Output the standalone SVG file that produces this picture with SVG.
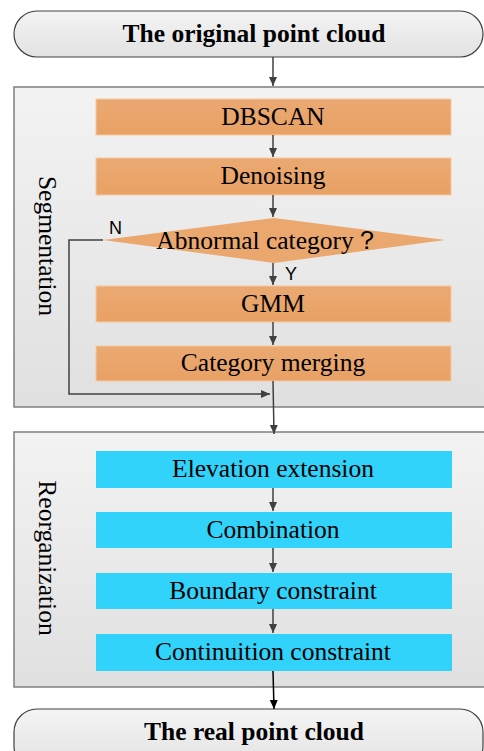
<svg xmlns="http://www.w3.org/2000/svg" width="484" height="751" viewBox="0 0 484 751">
<defs>
<linearGradient id="gbox" x1="0" y1="0" x2="0" y2="1"><stop offset="0" stop-color="#f3f3f3"/><stop offset="1" stop-color="#e0e0e0"/></linearGradient>
<linearGradient id="gpill" x1="0" y1="0" x2="0" y2="1"><stop offset="0" stop-color="#f4f4f4"/><stop offset="1" stop-color="#e2e2e2"/></linearGradient>
<linearGradient id="gor" x1="0" y1="0" x2="0" y2="1"><stop offset="0" stop-color="#eaa972"/><stop offset="1" stop-color="#e9a164"/></linearGradient>
<marker id="ah" markerWidth="10" markerHeight="10" refX="9" refY="5" orient="auto" markerUnits="userSpaceOnUse"><path d="M0,1 L9,5 L0,9 Z" fill="#404040"/></marker>
<marker id="ahk" markerWidth="10" markerHeight="10" refX="9" refY="5" orient="auto" markerUnits="userSpaceOnUse"><path d="M0,1 L9,5 L0,9 Z" fill="#000"/></marker>
</defs>
<style>
.cont{fill:url(#gbox);stroke:#7f7f7f;stroke-width:1.5}
.pill{fill:url(#gpill);stroke:#404040;stroke-width:1.2}
.or{fill:url(#gor);stroke:#f6c9a0;stroke-width:1}
.cy{fill:#31d3fa}
.t{font-family:"Liberation Serif",serif;font-size:25.5px;fill:#000;text-anchor:middle;dominant-baseline:central}
.tb{font-family:"Liberation Serif",serif;font-size:25.5px;font-weight:bold;fill:#000;text-anchor:middle;dominant-baseline:central}
.s{font-family:"Liberation Sans",sans-serif;font-size:18px;fill:#000}
.ln{fill:none;stroke:#404040;stroke-width:1.5}
</style>
<g id="start"><rect class="pill" x="14" y="11" width="469" height="46" rx="23" ry="23"/><text class="tb" x="254" y="33">The original point cloud</text></g>
<g id="segmentation"><rect class="cont" x="14" y="87" width="480" height="320"/><text class="t" transform="translate(47,246) rotate(90)">Segmentation</text></g>
<g id="reorganization"><rect class="cont" x="14" y="432" width="480" height="255"/><text class="t" transform="translate(47,558) rotate(90)">Reorganization</text></g>
<g id="end"><rect class="pill" x="14" y="709" width="469" height="60" rx="23" ry="23"/><text class="tb" x="254" y="731">The real point cloud</text></g>
<g id="dbscan"><rect class="or" x="96" y="99" width="355" height="36"/><text class="t" x="273" y="116">DBSCAN</text></g>
<g id="denoising"><rect class="or" x="96" y="158" width="355" height="37"/><text class="t" x="273" y="175">Denoising</text></g>
<g id="abnormal"><polygon points="103,240 274,218 445,240 274,263" fill="#eaa76e"/><text class="t" x="268" y="240">Abnormal category？</text></g>
<g id="gmm"><rect class="or" x="96" y="286" width="355" height="36"/><text class="t" x="273" y="303">GMM</text></g>
<g id="merging"><rect class="or" x="96" y="346" width="355" height="35"/><text class="t" x="273" y="362">Category merging</text></g>
<g id="elevation"><rect class="cy" x="96" y="451" width="356" height="37"/><text class="t" x="273" y="468">Elevation extension</text></g>
<g id="combination"><rect class="cy" x="96" y="512" width="356" height="36"/><text class="t" x="273" y="529">Combination</text></g>
<g id="boundary"><rect class="cy" x="96" y="573" width="356" height="36"/><text class="t" x="273" y="590">Boundary constraint</text></g>
<g id="continuity"><rect class="cy" x="96" y="634" width="356" height="37"/><text class="t" x="273" y="651">Continuition constraint</text></g>
<g id="connectors">
<line class="ln" x1="273" y1="57" x2="273" y2="86" marker-end="url(#ah)"/>
<line class="ln" x1="273" y1="135" x2="273" y2="157" marker-end="url(#ah)"/>
<line class="ln" x1="273" y1="195" x2="273" y2="217" marker-end="url(#ah)"/>
<line class="ln" x1="273" y1="263" x2="273" y2="285" marker-end="url(#ah)"/>
<line class="ln" x1="273" y1="322" x2="273" y2="345" marker-end="url(#ah)"/>
<polyline class="ln" points="103,240 69,240 69,394 270,394" marker-end="url(#ah)"/>
<line class="ln" x1="273" y1="381" x2="274" y2="434" marker-end="url(#ah)"/>
<line class="ln" x1="273" y1="488" x2="273" y2="511" marker-end="url(#ah)"/>
<line class="ln" x1="273" y1="548" x2="273" y2="572" marker-end="url(#ah)"/>
<line class="ln" x1="273" y1="609" x2="273" y2="633" marker-end="url(#ah)"/>
<line x1="273" y1="671" x2="274" y2="709" stroke="#000" stroke-width="1.5" marker-end="url(#ahk)"/>
<text class="s" x="109" y="234">N</text>
<text class="s" x="285" y="280">Y</text>
</g>
</svg>
